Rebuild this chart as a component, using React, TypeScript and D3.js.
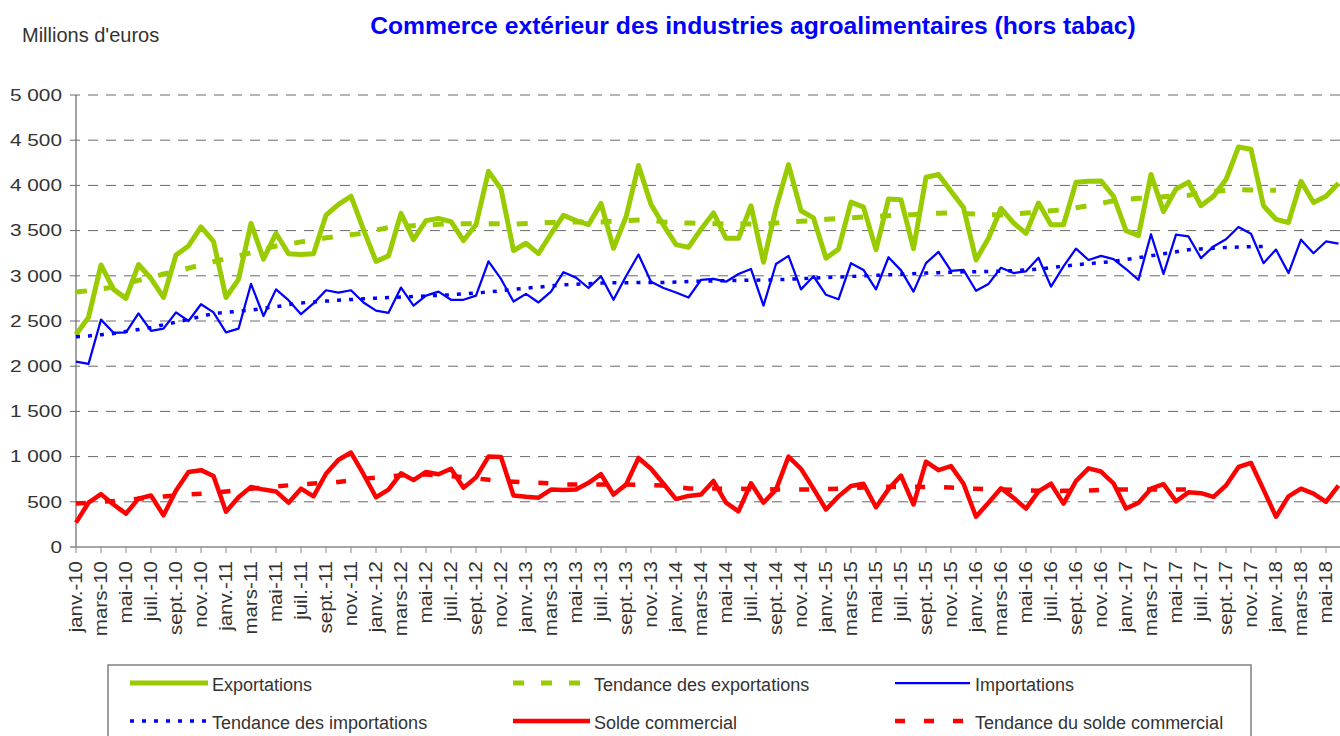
import React from "react";
import * as d3 from "d3";

// month labels, Jan 2010 -> Jun 2018
const MONTHS = ["janv.", "févr.", "mars", "avr.", "mai", "juin", "juil.", "août", "sept.", "oct.", "nov.", "déc."];
const YEARS = ["10", "11", "12", "13", "14", "15", "16", "17", "18"];
const N_MONTHS = 102;
const categories = d3.range(N_MONTHS).map((i) => `${MONTHS[i % 12]}-${YEARS[Math.floor(i / 12)]}`);

const Y_TICKS = [0, 500, 1000, 1500, 2000, 2500, 3000, 3500, 4000, 4500, 5000];

// millions d'euros
const exportations = [
  2350, 2540, 3120, 2850, 2750, 3125, 2970, 2760, 3230, 3330, 3540, 3380,
  2760, 2960, 3580, 3185, 3470, 3245, 3235, 3245, 3670, 3790, 3880, 3510,
  3160, 3220, 3690, 3400, 3610, 3635, 3600, 3390, 3565, 4155, 3960, 3280,
  3360, 3245, 3465, 3670, 3610, 3565, 3800, 3305, 3650, 4220, 3790, 3560,
  3345, 3315, 3515, 3695, 3415, 3415, 3775, 3150, 3750, 4230, 3720, 3640,
  3195, 3295, 3815, 3760, 3290, 3850, 3840, 3300, 4090, 4120, 3935, 3755,
  3175, 3415, 3745, 3585, 3470, 3805, 3565, 3565, 4035, 4045, 4050, 3880,
  3500, 3445, 4120, 3710, 3960, 4035, 3775, 3880, 4065, 4425, 4400, 3775,
  3625, 3590, 4045, 3810, 3880, 4025,
];

const importations = [
  2050, 2025, 2515, 2370, 2375, 2585, 2390, 2415, 2595, 2500, 2685, 2595,
  2375, 2415, 2910, 2555, 2850, 2730, 2575, 2695, 2840, 2815, 2840, 2705,
  2615, 2590, 2870, 2670, 2780, 2825, 2735, 2735, 2780, 3160, 2965, 2715,
  2800, 2705, 2825, 3040, 2980, 2865, 2995, 2735, 2995, 3235, 2935, 2865,
  2815, 2760, 2955, 2965, 2935, 3020, 3075, 2670, 3130, 3220, 2850, 2995,
  2790, 2740, 3140, 3065, 2850, 3205, 3060, 2825, 3140, 3265, 3055, 3065,
  2835, 2910, 3090, 3030, 3050, 3200, 2880, 3105, 3300, 3175, 3220, 3185,
  3075, 2955, 3460, 3020, 3455, 3435, 3195, 3325, 3405, 3540, 3465, 3140,
  3290, 3030, 3400, 3250, 3380, 3355,
];

const solde = [
  270, 490, 585, 470, 370, 535, 570, 350, 625, 830, 850, 785,
  390, 550, 665, 635, 615, 490, 645, 560, 810, 965, 1045, 805,
  550, 635, 815, 740, 830, 805, 865, 655, 770, 1000, 995, 570,
  555, 545, 635, 630, 635, 710, 805, 580, 690, 985, 865, 700,
  530, 565, 580, 730, 490, 395, 705, 490, 635, 1000, 865, 645,
  415, 560, 675, 700, 440, 640, 790, 470, 945, 850, 895, 700,
  335, 490, 650, 545, 425, 615, 700, 480, 730, 870, 835, 705,
  425, 490, 645, 695, 505, 605, 595, 555, 680, 885, 930, 635,
  335, 560, 645, 590, 500, 680,
];

const tendanceExportations = [
  2820, 2835, 2855, 2875, 2910, 2950, 2980, 3020, 3045, 3085, 3120, 3155,
  3190, 3220, 3255, 3295, 3330, 3350, 3375, 3395, 3420, 3435, 3455, 3470,
  3505, 3535, 3545, 3555, 3560, 3570, 3575, 3575, 3575, 3575, 3575, 3572,
  3578, 3583, 3590, 3594, 3595, 3595, 3595, 3605, 3612, 3616, 3620, 3595,
  3588, 3583, 3580, 3576, 3576, 3575, 3573, 3572, 3583, 3594, 3603, 3612,
  3625, 3635, 3640, 3650, 3657, 3665, 3673, 3677, 3685, 3692, 3694, 3690,
  3683, 3675, 3672, 3683, 3694, 3706, 3719, 3731, 3753, 3775, 3802, 3830,
  3845, 3858, 3862, 3875, 3884, 3890, 3925, 3935, 3945, 3952, 3950, 3947,
  3945,
];

const tendanceImportations = [
  2325, 2335, 2348, 2362, 2385, 2405, 2428, 2458, 2488, 2517, 2550, 2583,
  2595, 2608, 2620, 2640, 2657, 2680, 2700, 2710, 2720, 2730, 2738, 2745,
  2753, 2759, 2765, 2771, 2777, 2784, 2790, 2800, 2810, 2820, 2835, 2850,
  2863, 2875, 2888, 2900, 2906, 2913, 2919, 2922, 2924, 2926, 2926, 2926,
  2931, 2936, 2941, 2943, 2946, 2948, 2951, 2953, 2956, 2962, 2968, 2974,
  2980, 2987, 2993, 2999, 3005, 3011, 3017, 3024, 3030, 3035, 3040, 3044,
  3046, 3048, 3050, 3058, 3066, 3074, 3090, 3106, 3122, 3134, 3147, 3159,
  3180, 3200, 3221, 3243, 3266, 3288, 3297, 3305, 3314, 3318, 3322, 3325,
];

const tendanceSolde = [
  480, 490, 500, 508, 520, 534, 546, 558, 571, 580, 590, 602,
  615, 630, 645, 658, 671, 682, 693, 702, 711, 720, 738, 755,
  768, 780, 792, 798, 803, 793, 784, 774, 759, 744, 729, 723,
  717, 711, 702, 692, 692, 692, 692, 692, 692, 688, 684, 680,
  664, 648, 647, 646, 645, 644, 642, 639, 637, 637, 637, 637,
  640, 644, 651, 659, 666, 666, 666, 666, 665, 663, 657, 650,
  644, 640, 637, 632, 626, 622, 618, 621, 624, 626, 632, 637,
  637, 637, 637, 637, 637, 637, 637,
];

const W = 1340;
const H = 736;
const FONT = "'Liberation Sans', Arial, sans-serif";
const TEXT = "#333333";

const GREEN = "#99CC00";
const BLUE = "#0000FF";
const RED = "#FF0000";

const frFormat = d3.formatLocale({ decimal: ",", thousands: "\u00a0", grouping: [3], currency: ["", " €"] }).format(",d");

export default function App() {
  const x = d3.scalePoint<string>().domain(categories).range([76, 1338.5]);
  const y = d3.scaleLinear().domain([0, 5000]).range([547, 95]);

  const line = d3
    .line<number>()
    .x((_, i) => x(categories[i]) as number)
    .y((d) => y(d));

  const series = [
    { name: "Exportations", data: exportations, color: GREEN, width: 5, dash: undefined },
    { name: "Tendance des exportations", data: tendanceExportations, color: GREEN, width: 5, dash: "11 17" },
    { name: "Importations", data: importations, color: BLUE, width: 2.25, dash: undefined },
    { name: "Tendance des importations", data: tendanceImportations, color: BLUE, width: 3.5, dash: "4 8" },
    { name: "Solde commercial", data: solde, color: RED, width: 4.5, dash: undefined },
    { name: "Tendance du solde commercial", data: tendanceSolde, color: RED, width: 4.5, dash: "10 19" },
  ];

  // legend layout: 3 columns x 2 rows (in series order)
  const legendCols = [
    { x1: 130, x2: 208, tx: 212 },
    { x1: 513, x2: 590, tx: 594 },
    { x1: 895, x2: 970, tx: 975 },
  ];
  const legendRows = [683, 721];

  return (
    <svg
      width={W}
      height={H}
      style={{ position: "absolute", left: 0, top: 0, background: "#fff" }}
      fontFamily={FONT}
    >
      <text x={753} y={34} textAnchor="middle" fontSize={24.7} fontWeight="bold" fill={BLUE}>
        Commerce extérieur des industries agroalimentaires (hors tabac)
      </text>
      <text x={22} y={42} fontSize={20} fill={TEXT}>
        Millions d'euros
      </text>

      {/* horizontal grid */}
      {Y_TICKS.filter((t) => t > 0).map((t) => (
        <line key={t} x1={70} x2={W} y1={y(t)} y2={y(t)} stroke="#6a6a6a" strokeWidth={1} strokeDasharray="10 8" />
      ))}
      {Y_TICKS.map((t) => (
        <text
          key={"yl" + t}
          transform={`translate(62,${y(t)}) scale(1.3,1)`}
          dy="0.36em"
          textAnchor="end"
          fontSize={16}
          fill={TEXT}
        >
          {frFormat(t)}
        </text>
      ))}

      {/* axes */}
      <line x1={76} x2={76} y1={95} y2={547} stroke="#666" strokeWidth={1.2} />
      <line x1={70} x2={W} y1={547} y2={547} stroke="#888" strokeWidth={1.5} />
      {categories.map((c, i) =>
        i % 2 === 0 ? (
          <g key={c}>
            <line x1={x(c)} x2={x(c)} y1={547} y2={553} stroke="#888" strokeWidth={1} />
            <text
              transform={`translate(${x(c)},561) rotate(-90) scale(1,0.88)`}
              dy="0.35em"
              textAnchor="end"
              fontSize={20.5}
              fill={TEXT}
            >
              {c}
            </text>
          </g>
        ) : null
      )}

      {/* series */}
      {series.map((s) => (
        <path
          key={s.name}
          d={line(s.data) ?? ""}
          fill="none"
          stroke={s.color}
          strokeWidth={s.width}
          strokeDasharray={s.dash}
          strokeLinejoin="round"
        />
      ))}

      {/* legend */}
      <rect x={108} y={665} width={1143} height={110} fill="none" stroke="#808080" strokeWidth={1.5} />
      {series.map((s, i) => {
        const col = legendCols[i % 3];
        const row = legendRows[Math.floor(i / 3)];
        return (
          <g key={"lg" + s.name}>
            <line
              x1={col.x1}
              x2={col.x2}
              y1={row}
              y2={row}
              stroke={s.color}
              strokeWidth={s.width}
              strokeDasharray={s.dash}
            />
            <text x={col.tx} y={row + 8} fontSize={18} fill={TEXT}>
              {s.name}
            </text>
          </g>
        );
      })}
    </svg>
  );
}
